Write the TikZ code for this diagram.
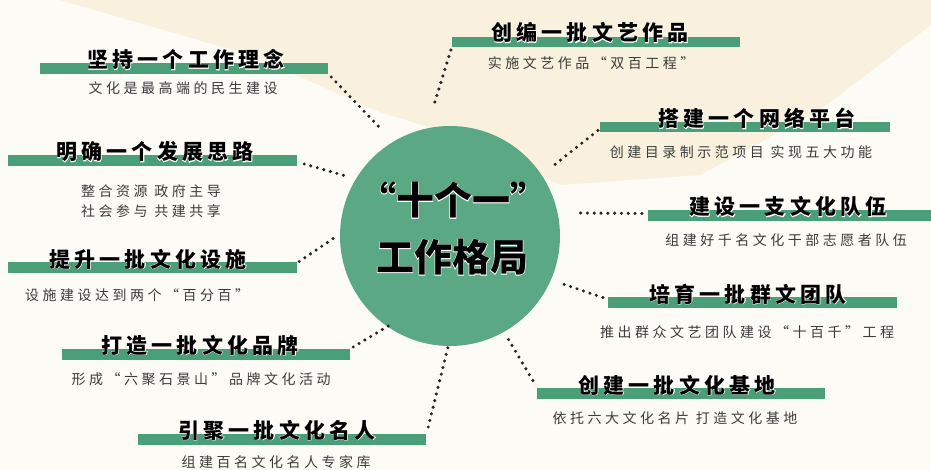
\documentclass[tikz,border=0pt]{standalone}
\usepackage{fontspec}
\newfontfamily\cjk{Noto Sans CJK SC}
\definecolor{bargreen}{HTML}{4A9E78}
\definecolor{circgreen}{HTML}{5BA984}
\definecolor{cream}{HTML}{F9F1DD}
\definecolor{paper}{HTML}{FDFBF6}
\definecolor{dotc}{HTML}{242424}
\definecolor{subc}{HTML}{3C3C3C}
\newcommand\outl[2]{\rlap{\color{white}\addfontfeature{FakeBold=#1}#2}#2}
\tikzset{
  bar/.style={fill=bargreen, draw=none, inner sep=0pt, minimum height=11pt},
  ttl/.style={anchor=base, inner sep=0pt, font=\cjk\bfseries\fontsize{21}{24}\selectfont\addfontfeature{LetterSpace=20}, text=black},
  sub/.style={inner sep=0pt, font=\cjk\fontsize{14}{20}\selectfont\addfontfeature{LetterSpace=25}, text=subc, align=center},
  dotline/.style={draw=dotc, line width=3.4pt, line cap=round, dash pattern=on 0pt off 6.8pt},
  ctr/.style={inner sep=0pt, font=\cjk\bfseries\fontsize{38}{40}\selectfont, text=black}
}
\begin{document}
\begin{tikzpicture}[x=1pt,y=-1pt]
\useasboundingbox (0,0) rectangle (931,470);
\fill[paper] (0,0) rectangle (931,470);
\fill[cream] (60,0) -- (931,0) -- (931,25) -- (820,110) -- (700,175) -- (560,185) -- (470,140) -- (380,112) -- (250,55) -- cycle;

% central circle
\node[circle, fill=circgreen, minimum size=220pt, inner sep=0pt] (c) at (450,236) {};
\node[ctr] (c1) at (453,200) {\outl{3}{“十个一”}};
\node[ctr] (c2) at (452,257) {\outl{3}{工作格局}};

% left items
\node[bar, minimum width=288pt] (b1) at (184,69) {};
\node[ttl] (t1) at (186,68) {\outl{3}{坚持一个工作理念}};
\node[sub] (s1) at (183,88) {文化是最高端的民生建设};

\node[bar, minimum width=289pt] (b2) at (152.5,161) {};
\node[ttl] (t2) at (155,160) {\outl{3}{明确一个发展思路}};
\node[sub] (s2) at (151,201) {整合资源 政府主导\\社会参与 共建共享};

\node[bar, minimum width=289pt] (b3) at (152.5,267.5) {};
\node[ttl] (t3) at (148,267) {\outl{3}{提升一批文化设施}};
\node[sub] (s3) at (137,295) {设施建设达到两个“百分百”};

\node[bar, minimum width=288pt] (b4) at (206,354) {};
\node[ttl] (t4) at (200,353) {\outl{3}{打造一批文化品牌}};
\node[sub] (s4) at (201,379) {形成“六聚石景山”品牌文化活动};

\node[bar, minimum width=288pt] (b5) at (282,439) {};
\node[ttl] (t5) at (277,438) {\outl{3}{引聚一批文化名人}};
\node[sub] (s5) at (276,462) {组建百名文化名人专家库};

% right items
\node[bar, minimum width=288pt, minimum height=10pt] (b6) at (596,42) {};
\node[ttl] (t6) at (590,41) {\outl{3}{创编一批文艺作品}};
\node[sub] (s6) at (591,63) {实施文艺作品“双百工程”};

\node[bar, minimum width=290pt, minimum height=10pt] (b7) at (745,127.5) {};
\node[ttl] (t7) at (757,127) {\outl{3}{搭建一个网络平台}};
\node[sub] (s7) at (741,152) {创建目录制示范项目 实现五大功能};

\node[bar, minimum width=283pt] (b8) at (789.5,215.5) {};
\node[ttl] (t8) at (788,215) {\outl{3}{建设一支文化队伍}};
\node[sub] (s8) at (786,240) {组建好千名文化干部志愿者队伍};

\node[bar, minimum width=289pt] (b9) at (752.5,302.5) {};
\node[ttl] (t9) at (748,302) {\outl{3}{培育一批群文团队}};
\node[sub] (s9) at (747,332) {推出群众文艺团队建设“十百千”工程};

\node[bar, minimum width=288pt] (b10) at (681,393.5) {};
\node[ttl] (t10) at (677,393) {\outl{3}{创建一批文化基地}};
\node[sub] (s10) at (675,418) {依托六大文化名片 打造文化基地};

% connector end points near the circle
\coordinate (e1) at (382,130);
\coordinate (e2) at (346,176);
\coordinate (e3) at (334,238);
\coordinate (e4) at (390,325);
\coordinate (e5) at (448,347);
\coordinate (e6) at (433,108);
\coordinate (e7) at (553,166);
\coordinate (e8) at (576,213);
\coordinate (e9) at (560,283);
\coordinate (e10) at (507,337);

\draw[dotline] ([xshift=3pt,yshift=-8pt]b1.east) -- (e1);
\draw[dotline] ([xshift=7pt,yshift=-3pt]b2.east) -- (e2);
\draw[dotline] ([xshift=2pt,yshift=6pt]b3.east) -- (e3);
\draw[dotline] ([xshift=3pt,yshift=7pt]b4.east) -- (e4);
\draw[dotline] ([xshift=2pt,yshift=12pt]b5.east) -- (e5);
\draw[dotline] ([xshift=-1pt,yshift=-8pt]b6.west) -- (e6);
\draw[dotline] ([xshift=-2pt,yshift=-3pt]b7.west) -- (e7);
\draw[dotline] ([xshift=-6pt,yshift=2pt]b8.west) -- (e8);
\draw[dotline] ([xshift=-5pt,yshift=5pt]b9.west) -- (e9);
\draw[dotline] ([xshift=-4pt,yshift=13pt]b10.west) -- (e10);
\end{tikzpicture}
\end{document}
